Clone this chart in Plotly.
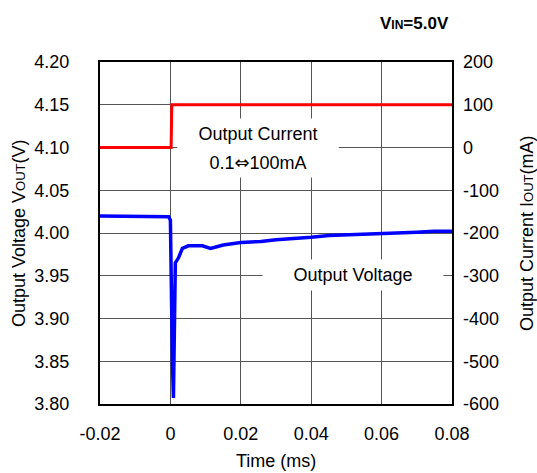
import plotly.graph_objects as go

# Output voltage transient (ms, V)
t_v = [-0.02, -0.015, -0.01, -0.005, -0.0005, 0.0, 0.00014, 0.00057, 0.00086, 0.0010,
       0.00114, 0.0014, 0.0023, 0.0034, 0.0051, 0.007, 0.0091, 0.0114, 0.015, 0.02,
       0.0257, 0.03, 0.035, 0.04, 0.045, 0.05, 0.055, 0.06, 0.065, 0.07, 0.075, 0.08]
v_out = [4.020, 4.020, 4.020, 4.020, 4.019, 4.015, 3.960, 3.850, 3.807, 3.850,
         3.933, 3.965, 3.971, 3.982, 3.985, 3.985, 3.985, 3.982, 3.986, 3.989,
         3.990, 3.992, 3.993, 3.995, 3.997, 3.998, 3.999, 3.999, 4.000, 4.001, 4.002, 4.002]

# Output current step (ms, mA)
t_i = [-0.02, 0.0002, 0.0004, 0.08]
i_out = [0.1, 0.1, 100, 100]

x_ticks = [-0.02, 0, 0.02, 0.04, 0.06, 0.08]
x_labels = ["-0.02", "0", "0.02", "0.04", "0.06", "0.08"]
yl_ticks = [3.80, 3.85, 3.90, 3.95, 4.00, 4.05, 4.10, 4.15, 4.20]
yl_labels = ["3.80", "3.85", "3.90", "3.95", "4.00", "4.05", "4.10", "4.15", "4.20"]
yr_ticks = [-600, -500, -400, -300, -200, -100, 0, 100, 200]
yr_labels = ["-600", "-500", "-400", "-300", "-200", "-100", "0", "100", "200"]

FONT = "Liberation Sans, Arial, sans-serif"
FS = 18
L, R, T, B = 100, 452, 62, 404
PW, PH = R - L, B - T  # plot area in pixels


def px(pix):
    """pixel column -> paper x"""
    return (pix - L) / PW


def py(pix):
    """pixel row -> paper y"""
    return (B - pix) / PH


fig = go.Figure()
fig.add_trace(go.Scatter(x=t_i, y=i_out, yaxis="y2", mode="lines",
                         line=dict(color="#ff0000", width=3), showlegend=False))
fig.add_trace(go.Scatter(x=t_v, y=v_out, mode="lines",
                         line=dict(color="#0000ff", width=3.5), showlegend=False))

fig.update_layout(
    width=537, height=473,
    margin=dict(l=L, r=537 - R, t=T, b=473 - B, autoexpand=False),
    paper_bgcolor="white", plot_bgcolor="white",
    font=dict(family=FONT, size=FS, color="black"),
    xaxis=dict(range=[-0.02, 0.08], tickvals=x_ticks, ticktext=x_labels,
               showgrid=True, gridcolor="#555555", gridwidth=1,
               showline=True, linecolor="black", linewidth=2, mirror=True,
               ticks="", ticklabelstandoff=12, zeroline=False, automargin=False),
    yaxis=dict(range=[3.80, 4.20], tickvals=yl_ticks, ticktext=yl_labels,
               showgrid=True, gridcolor="#555555", gridwidth=1,
               showline=True, linecolor="black", linewidth=2, mirror=True,
               ticks="", ticklabelstandoff=25, zeroline=False, automargin=False),
    yaxis2=dict(range=[-600, 200], tickvals=yr_ticks, ticktext=yr_labels,
                overlaying="y", side="right",
                showgrid=False, showline=False, ticks="", ticklabelstandoff=10,
                zeroline=False, automargin=False),
)

ann = dict(xref="paper", yref="paper", showarrow=False, xanchor="center", yanchor="middle")

fig.add_annotation(x=0.5, y=py(461), text="Time (ms)", font=dict(size=FS), **ann)
fig.add_annotation(x=px(19), y=0.5,
                   text="Output Voltage V<span style='font-size:13px'>OUT</span>(V)",
                   textangle=-90, font=dict(size=FS), **ann)
fig.add_annotation(x=px(527), y=0.5,
                   text="Output Current I<span style='font-size:13px'>OUT</span>(mA)",
                   textangle=-90, font=dict(size=FS), **ann)
fig.add_annotation(x=px(451), y=py(23), xref="paper", yref="paper", showarrow=False,
                   xanchor="right", yanchor="middle",
                   text="<b>V<span style='font-size:12px'>IN</span>=5.0V</b>",
                   font=dict(size=17))
# in-plot labels (white boxes hide the grid behind them)
fig.add_annotation(x=px(258), y=py(134), text="Output Current", bgcolor="white",
                   font=dict(size=FS), width=160, height=30, borderpad=0, **ann)
fig.add_annotation(x=px(258), y=py(162),
                   text="0.1<span style='font-family:DejaVu Sans'>⇔</span>100mA",
                   bgcolor="white", font=dict(size=FS), width=160, height=30,
                   borderpad=0, **ann)
fig.add_annotation(x=px(353), y=py(275), text="Output Voltage", bgcolor="white",
                   font=dict(size=FS), width=180, height=30, borderpad=0, **ann)

# the page's default body margin would offset the figure; remove it
fig.write_html("out.html", config={"displayModeBar": False},
               post_script="document.body.style.margin='0';document.body.style.padding='0';")
